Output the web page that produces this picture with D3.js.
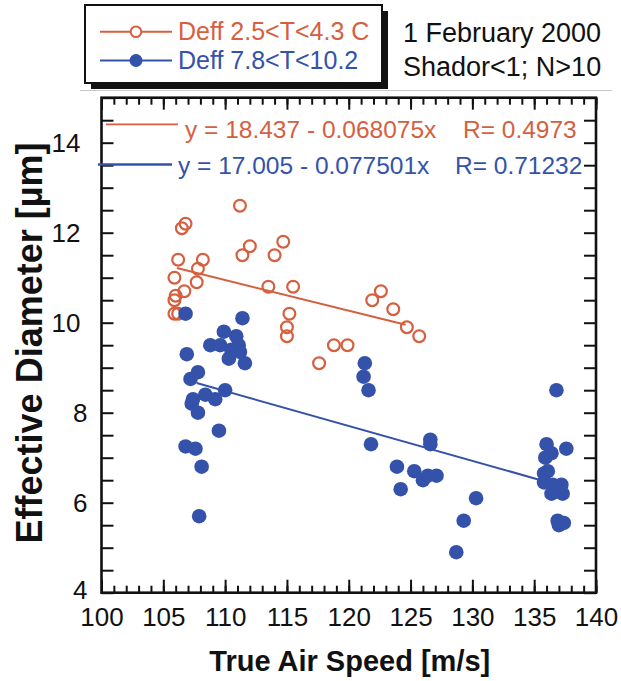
<!DOCTYPE html>
<html><head><meta charset="utf-8">
<script src="https://cdn.jsdelivr.net/npm/d3@7"></script>
<style>body{margin:0;background:#fff} svg{display:block}</style>
</head><body>
<svg id="c" width="621" height="681"></svg>
<script>
// ---- data ----
const seriesNames = ["Deff 2.5<T<4.3 C", "Deff 7.8<T<10.2"];
const seriesColors = ["#d5603f", "#3552aa"];
const redX = [105.9,105.9,105.9,106.2,106.0,106.2,106.5,106.8,106.7,107.7,107.8,108.2,111.2,111.4,112.0,113.5,114.0,114.7,115.5,115.2,115.0,115.0,117.6,118.8,119.9,121.9,122.6,123.6,124.7,125.7];
const redY = [11.0,10.5,10.2,10.2,10.6,11.4,12.1,12.2,10.7,10.9,11.2,11.4,12.6,11.5,11.7,10.8,11.5,11.8,10.8,10.2,9.9,9.7,9.1,9.5,9.5,10.5,10.7,10.3,9.9,9.7];
const blueX = [106.8,111.4,109.9,110.9,108.8,109.6,111.1,110.5,111.2,110.3,111.6,106.9,107.8,107.2,110.0,107.4,107.3,108.4,109.2,107.8,109.5,106.8,107.6,108.1,107.9,
               121.3,121.2,121.6,121.8,123.9,124.2,125.3,126.0,126.4,127.1,126.6,126.6,128.7,129.3,130.3,
               136.8,137.6,136.0,136.4,135.9,136.1,135.8,135.8,136.5,137.2,136.4,137.3,136.9,136.9,137.4,137.0];
const blueY = [10.2,10.1,9.8,9.7,9.5,9.5,9.5,9.4,9.35,9.2,9.1,9.3,8.9,8.75,8.5,8.3,8.2,8.4,8.3,8.0,7.6,7.25,7.2,6.8,5.7,
               9.1,8.8,8.5,7.3,6.8,6.3,6.7,6.5,6.6,6.6,7.4,7.3,4.9,5.6,6.1,
               8.5,7.2,7.3,7.1,7.0,6.7,6.65,6.45,6.4,6.4,6.2,6.2,6.25,5.6,5.55,5.5];
const fitIntercept = [18.437, 17.005];
const fitSlope = [0.068075, 0.077501];
const fitR = ["0.4973", "0.71232"];
const fitStart = [106.1, 107.7];
const fitEnd = [124.6, 135.4];
const xTickLabels = [100,105,110,115,120,125,130,135,140];
const yTickLabels = [4,6,8,10,12,14];
const notes = ["1 February 2000", "Shador<1; N>10"];
const xTitle = "True Air Speed [m/s]";
const yTitle = "Effective Diameter [\u00b5m]";

// ---- drawing ----
const FONT = "'Liberation Sans', Arial, Helvetica, sans-serif";
const svg = d3.select("#c").style("font-family", FONT);
const L = 101.5, R = 596, T = 97.7, B = 592.7;
const x = d3.scaleLinear().domain([100,140]).range([L,R]);
const y = d3.scaleLinear().domain([4,15]).range([B,T]);

// faint panel line
svg.append("line").attr("x1",80).attr("x2",612).attr("y1",90.5).attr("y2",90.5)
  .attr("stroke","#c8c8c8").attr("stroke-width",1);

function styleAxis(g){ g.select(".domain").remove(); g.selectAll("line").attr("stroke","#111").attr("stroke-width",2); }

// bottom minor / major
svg.append("g").attr("transform",`translate(0,${B})`)
  .call(d3.axisBottom(x).tickValues(d3.range(100,141,1)).tickSize(-7).tickFormat(""))
  .call(styleAxis);
const bx = svg.append("g").attr("transform",`translate(0,${B})`)
  .call(d3.axisBottom(x).tickValues(xTickLabels).tickSize(-13).tickPadding(15).tickFormat(d3.format("d")))
  .call(styleAxis);
bx.selectAll("text").attr("font-size",26).attr("fill","#111").attr("font-family",FONT);
// top
svg.append("g").attr("transform",`translate(0,${T})`)
  .call(d3.axisTop(x).tickValues(d3.range(100,141,1)).tickSize(-7).tickFormat(""))
  .call(styleAxis);
svg.append("g").attr("transform",`translate(0,${T})`)
  .call(d3.axisTop(x).tickValues(xTickLabels).tickSize(-12).tickFormat(""))
  .call(styleAxis);
// left
svg.append("g").attr("transform",`translate(${L},0)`)
  .call(d3.axisLeft(y).tickValues(d3.range(4,15.01,0.5)).tickSize(-12).tickFormat(""))
  .call(styleAxis);
const ly = svg.append("g").attr("transform",`translate(${L},0)`)
  .call(d3.axisLeft(y).tickValues(yTickLabels).tickSize(0).tickPadding(21).tickFormat(d3.format("d")))
  .call(styleAxis);
ly.selectAll("text").attr("font-size",26).attr("fill","#111").attr("font-family",FONT)
  .attr("dx", d => String(d).length === 1 ? 7 : 0).attr("dy", d => d === 4 ? "0.22em" : "0.32em");
// right
svg.append("g").attr("transform",`translate(${R},0)`)
  .call(d3.axisRight(y).tickValues(d3.range(4,15.01,0.5)).tickSize(-12).tickFormat(""))
  .call(styleAxis);
// frame
svg.append("rect").attr("x",L).attr("y",T).attr("width",R-L).attr("height",B-T)
  .attr("fill","none").attr("stroke","#111").attr("stroke-width",2.6);

// points
svg.append("g").selectAll("circle").data(d3.zip(redX, redY)).join("circle")
  .attr("cx", d => x(d[0])).attr("cy", d => y(d[1])).attr("r", 5.9)
  .attr("fill","none").attr("stroke", seriesColors[0]).attr("stroke-width", 2.2);
svg.append("g").selectAll("circle").data(d3.zip(blueX, blueY)).join("circle")
  .attr("cx", d => x(d[0])).attr("cy", d => y(d[1])).attr("r", 7.3)
  .attr("fill", seriesColors[1]);

// fit lines
[0,1].forEach(i => {
  const f = v => fitIntercept[i] - fitSlope[i]*v;
  svg.append("line").attr("x1", x(fitStart[i])).attr("y1", y(f(fitStart[i])))
    .attr("x2", x(fitEnd[i])).attr("y2", y(f(fitEnd[i])))
    .attr("stroke", seriesColors[i]).attr("stroke-width", 2);
});

// equation annotations
const eqLine = [[106,178,124.3],[98,172,164.5]];
const eqText = [[185,138],[178,173.5]];
const eqR = [463,455];
[0,1].forEach(i => {
  svg.append("line").attr("x1",eqLine[i][0]).attr("x2",eqLine[i][1]).attr("y1",eqLine[i][2]).attr("y2",eqLine[i][2])
    .attr("stroke", seriesColors[i]).attr("stroke-width", i===0?1.8:2.4);
  svg.append("text").attr("x",eqText[i][0]).attr("y",eqText[i][1]).attr("font-size",24.5)
    .attr("fill",seriesColors[i]).text(`y = ${fitIntercept[i]} - ${fitSlope[i]}x`);
  svg.append("text").attr("x",eqR[i]).attr("y",eqText[i][1]).attr("font-size",24.5)
    .attr("fill",seriesColors[i]).text(`R= ${fitR[i]}`);
});

// legend
const lg = svg.append("g");
lg.append("rect").attr("x",91).attr("y",11).attr("width",297).attr("height",78).attr("fill","#111");
lg.append("rect").attr("x",85).attr("y",5).attr("width",297).attr("height",78).attr("fill","#fff")
  .attr("stroke","#111").attr("stroke-width",2);
const legY = [31.7, 60.5];
[0,1].forEach(i => {
  lg.append("line").attr("x1",100).attr("x2",172).attr("y1",legY[i]).attr("y2",legY[i])
    .attr("stroke",seriesColors[i]).attr("stroke-width",2);
  if (i===0) lg.append("circle").attr("cx",136).attr("cy",legY[i]).attr("r",5.3).attr("fill","#fff")
    .attr("stroke",seriesColors[i]).attr("stroke-width",2);
  else lg.append("circle").attr("cx",136).attr("cy",legY[i]).attr("r",6.5).attr("fill",seriesColors[i]);
  lg.append("text").attr("x",178).attr("y",legY[i]+8.3).attr("font-size",25).attr("fill",seriesColors[i])
    .text(seriesNames[i]);
});
// notes
notes.forEach((t,i) => svg.append("text").attr("x",403).attr("y",[42,76][i]).attr("font-size",27)
  .attr("fill","#111").text(t));

// titles
svg.append("text").attr("x",(L+R)/2+1).attr("y",671).attr("text-anchor","middle")
  .attr("font-size",29).attr("font-weight","bold").attr("fill","#111").text(xTitle);
svg.append("text").attr("transform",`translate(42,343) rotate(-90)`).attr("text-anchor","middle")
  .attr("font-size",36).attr("font-weight","bold").attr("fill","#111").text(yTitle);
</script>
</body></html>
